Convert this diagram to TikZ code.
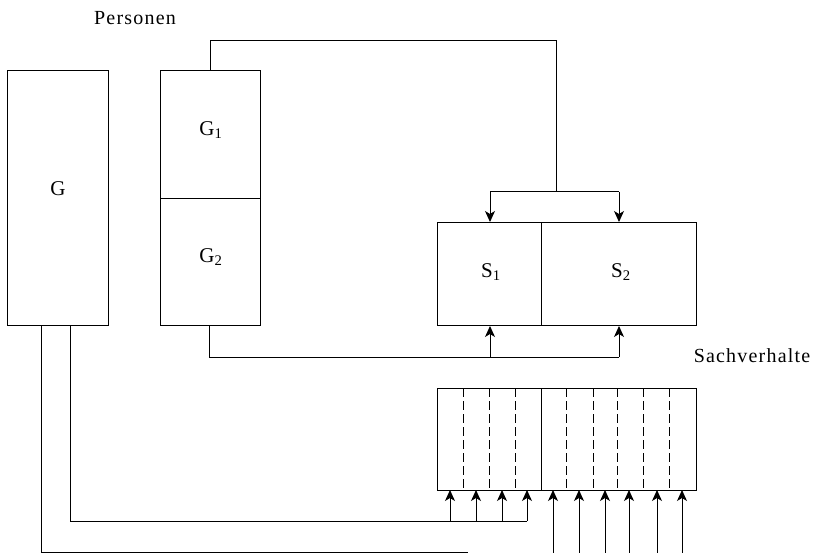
\documentclass[tikz,border=0pt]{standalone}
\usepackage{fontspec}
\setmainfont{Liberation Serif}
\usetikzlibrary{arrows.meta}
\begin{document}
\begin{tikzpicture}[x=1pt,y=-1pt,
  line width=1pt,
  box/.style={draw, rectangle, inner sep=0pt, anchor=north west},
  lab/.style={font=\fontsize{21}{23}\selectfont, inner sep=0pt},
  head/.style={font=\addfontfeatures{LetterSpace=6}\fontsize{20}{22}\selectfont, inner sep=0pt},
  arr/.style={-{Stealth[length=11pt,width=10pt,inset=3pt]}},
  dsh/.style={dash pattern=on 9pt off 4pt, line width=1pt}]
\useasboundingbox (0,0) rectangle (819,553);
% boxes
\node[box, minimum width=101, minimum height=255] (G) at (7,70) {};
\node[box, minimum width=100, minimum height=128] (G1) at (160,70) {};
\node[box, minimum width=100, minimum height=127] (G2) at (160,198) {};
\node[box, minimum width=104, minimum height=103] (S1) at (437,222) {};
\node[box, minimum width=155, minimum height=103] (S2) at (541,222) {};
\node[box, minimum width=104, minimum height=102] (L) at (437,388) {};
\node[box, minimum width=155, minimum height=102] (R) at (541,388) {};
% labels
\node[lab] (tG) at (58,189) {G};
\node[lab] (tG1) at (211,130) {G\textsubscript{1}};
\node[lab] (tG2) at (211,257) {G\textsubscript{2}};
\node[lab] (tS1) at (491,272) {S\textsubscript{1}};
\node[lab] (tS2) at (621,272) {S\textsubscript{2}};
\node[head] (pers) at (135,18) {Personen};
\node[head] (sach) at (752,356) {Sachverhalte};
% dashed dividers
\foreach \x in {463,489,515} \draw[dsh] (\x,388) -- (\x,490);
\foreach \x in {566,593,617,643,669} \draw[dsh] (\x,388) -- (\x,490);
% top connector G1 -> S1,S2
\coordinate (t1) at (210,41);
\coordinate (t2) at (556,41);
\coordinate (t3) at (556,192);
\coordinate (ta) at (490,192);
\coordinate (tb) at (619,192);
\draw (G1.north -| t1) -- (t1) -- (t2) -- (t3);
\draw (ta) -- (tb);
\draw[arr] (ta) -- (ta |- S1.north);
\draw[arr] (tb) -- (tb |- S2.north);
% bottom connector G2 -> S1,S2
\coordinate (b1) at (209,357);
\coordinate (ba) at (490,357);
\coordinate (bb) at (619,357);
\draw (G2.south -| b1) -- (b1) -- (bb);
\draw[arr] (ba) -- (ba |- S1.south);
\draw[arr] (bb) -- (bb |- S2.south);
% G -> lower left compartments
\coordinate (g1) at (70,521);
\coordinate (g2) at (527,521);
\draw (G.south -| g1) -- (g1) -- (g2);
\foreach \x in {450,476,502,527} \draw[arr] (\x,521) -- (\x,490);
% G -> long line at bottom
\coordinate (h1) at (41,552);
\coordinate (h2) at (468,552);
\draw (G.south -| h1) -- (h1) -- (h2);
% right compartments, arrows from below
\foreach \x in {553,579,605,629,657,682} \draw[arr] (\x,553) -- (\x,490);
\end{tikzpicture}
\end{document}
